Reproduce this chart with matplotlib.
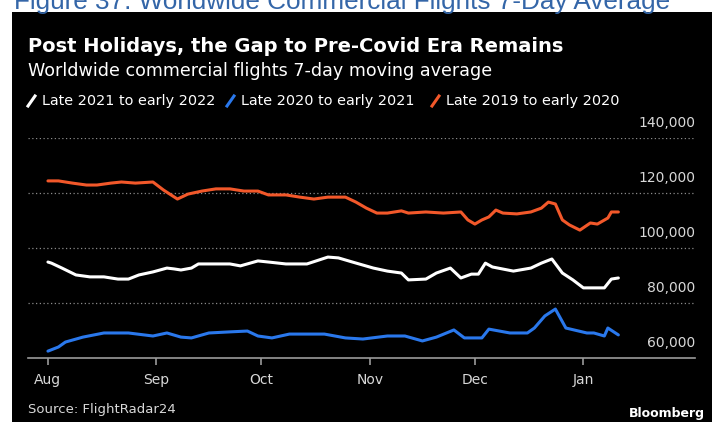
import pandas as pd
import matplotlib.pyplot as plt
import matplotlib.dates as mdates
from matplotlib.patches import Rectangle
from matplotlib.lines import Line2D

plt.rcParams['font.family'] = ['DejaVu Sans']

# 7-day moving average of commercial flights, read as (days since Aug 1, flights in thousands)
red_days = [0, 3, 7, 11, 14, 18, 21, 25, 30, 33, 37, 40, 44, 48, 52, 56, 60, 63, 68, 72,
            76, 80, 85, 88, 91, 94, 97, 101, 103, 108, 113, 118, 120, 122, 124, 126, 128,
            130, 134, 138, 141, 143, 145, 147, 149, 152, 155, 157, 160, 161, 163]
red_vals = [124.4, 124.4, 123.6, 122.9, 122.9, 123.6, 124.0, 123.6, 124.0, 121.1, 117.8,
            119.6, 120.7, 121.5, 121.5, 120.7, 120.7, 119.3, 119.3, 118.5, 117.8, 118.5,
            118.5, 116.7, 114.5, 112.7, 112.7, 113.5, 112.7, 113.1, 112.7, 113.1, 110.2,
            108.7, 110.2, 111.3, 113.8, 112.7, 112.4, 113.1, 114.5, 116.7, 116.0, 110.2,
            108.4, 106.5, 109.1, 108.7, 110.9, 113.1, 113.1]

white_days = [0, 1, 4, 8, 12, 16, 20, 23, 26, 30, 34, 36, 38, 41, 43, 48, 52, 55, 60, 63,
              68, 74, 80, 83, 87, 93, 97, 101, 103, 108, 111, 115, 118, 121, 123, 125, 127,
              133, 138, 141, 144, 147, 150, 153, 159, 161, 163]
white_vals = [94.9, 94.5, 92.7, 90.2, 89.5, 89.5, 88.7, 88.7, 90.2, 91.3, 92.7, 92.4, 92.0,
              92.7, 94.2, 94.2, 94.2, 93.5, 95.3, 94.9, 94.2, 94.2, 96.7, 96.4, 94.9, 92.7,
              91.6, 90.9, 88.4, 88.7, 90.9, 92.7, 89.1, 90.5, 90.5, 94.5, 93.1, 91.6, 92.7,
              94.5, 96.0, 90.9, 88.4, 85.5, 85.5, 88.7, 89.1]

blue_days = [0, 3, 5, 10, 16, 23, 30, 34, 38, 41, 46, 52, 57, 60, 64, 69, 79, 85, 90, 97,
             102, 107, 111, 116, 119, 124, 126, 132, 137, 139, 142, 145, 148, 154, 156, 159,
             160, 163]
blue_vals = [62.5, 64.0, 65.8, 67.6, 69.1, 69.1, 68.0, 69.1, 67.6, 67.3, 69.1, 69.5, 69.8,
             68.0, 67.3, 68.7, 68.7, 67.3, 66.9, 68.0, 68.0, 66.2, 67.6, 70.2, 67.3, 67.3,
             70.5, 69.1, 69.1, 70.9, 75.3, 77.8, 70.9, 69.1, 69.1, 68.0, 70.9, 68.4]

series_labels = ['Late 2021 to early 2022', 'Late 2020 to early 2021', 'Late 2019 to early 2020']
series_colors = ['#ffffff', '#2a78ec', '#f2582a']
y_ticks = [60000, 80000, 100000, 120000, 140000]

start = pd.Timestamp('2021-08-01')


def to_dates(days):
    return start + pd.to_timedelta(days, unit='D')


W, H = 712, 422
fig = plt.figure(figsize=(W / 100, H / 100), dpi=100, facecolor='white')

# black chart panel, kept behind the axes
fig.patches.append(Rectangle((12 / W, 0), 1 - 12 / W, 1 - 12 / H, transform=fig.transFigure,
                             facecolor='black', edgecolor='none', zorder=-1))

fig.text(14 / W, 1 - 9 / H, 'Figure 37: Worldwide Commercial Flights 7-Day Average',
         color='#3466a8', fontsize=18.8, family='Liberation Sans', va='baseline', ha='left')

fig.text(28 / W, 1 - 52 / H, 'Post Holidays, the Gap to Pre-Covid Era Remains',
         color='white', fontsize=14, fontweight='bold', va='baseline')
fig.text(28 / W, 1 - 76 / H, 'Worldwide commercial flights 7-day moving average',
         color='white', fontsize=12.6, va='baseline')

ax = fig.add_axes([28 / W, 1 - 358 / H, (695 - 28) / W, (358 - 138) / H])
ax.set_facecolor('none')

series = [(white_days, white_vals), (blue_days, blue_vals), (red_days, red_vals)]
for (days, vals), color in zip(series, series_colors):
    ax.plot(to_dates(days), [v * 1000 for v in vals], color=color, lw=2.2,
            solid_joinstyle='round', solid_capstyle='round', zorder=3)

ax.set_xlim(start - pd.Timedelta(days=5.7), start + pd.Timedelta(days=184.9))
ax.set_ylim(60000, 140000)

# dotted gridlines with labels sitting above them on the right
for v in y_ticks:
    if v > 60000:
        ax.axhline(v, color='#8a8a8a', lw=0.9, ls=(0, (1, 2)), zorder=1)
    ax.annotate(f'{v:,}', xy=(1, v), xycoords=('axes fraction', 'data'),
                xytext=(0, 6), textcoords='offset points', ha='right', va='bottom',
                color='#d8d8d8', fontsize=10)

for s in ['top', 'right', 'left']:
    ax.spines[s].set_visible(False)
ax.spines['bottom'].set_color('#9a9a9a')
ax.spines['bottom'].set_linewidth(1.2)
ax.set_yticks([])

month_ticks = pd.date_range('2021-08-01', '2022-01-01', freq='MS')
ax.set_xticks(month_ticks)
ax.xaxis.set_major_formatter(mdates.DateFormatter('%b'))
ax.tick_params(axis='x', colors='#9a9a9a', length=5, width=1.2, pad=6, labelsize=10,
               labelcolor='#d8d8d8')

# legend: coloured slashes followed by series names
legend_x = [28, 227, 432]
legend_y = 1 - 101 / H
for x0, label, color in zip(legend_x, series_labels, series_colors):
    fig.add_artist(Line2D([x0 / W, (x0 + 7) / W], [legend_y - 5 / H, legend_y + 5 / H],
                          transform=fig.transFigure, color=color, lw=2.2))
    fig.text((x0 + 14) / W, legend_y, label, color='white', fontsize=10.4, va='center')

fig.text(28 / W, 1 - 409 / H, 'Source: FlightRadar24', color='#d8d8d8', fontsize=9.5,
         va='center')
fig.text(705 / W, 1 - 413 / H, 'Bloomberg', color='white', fontsize=9, fontweight='bold',
         va='center', ha='right')

fig.savefig('out.png', dpi=100, facecolor=fig.get_facecolor())
